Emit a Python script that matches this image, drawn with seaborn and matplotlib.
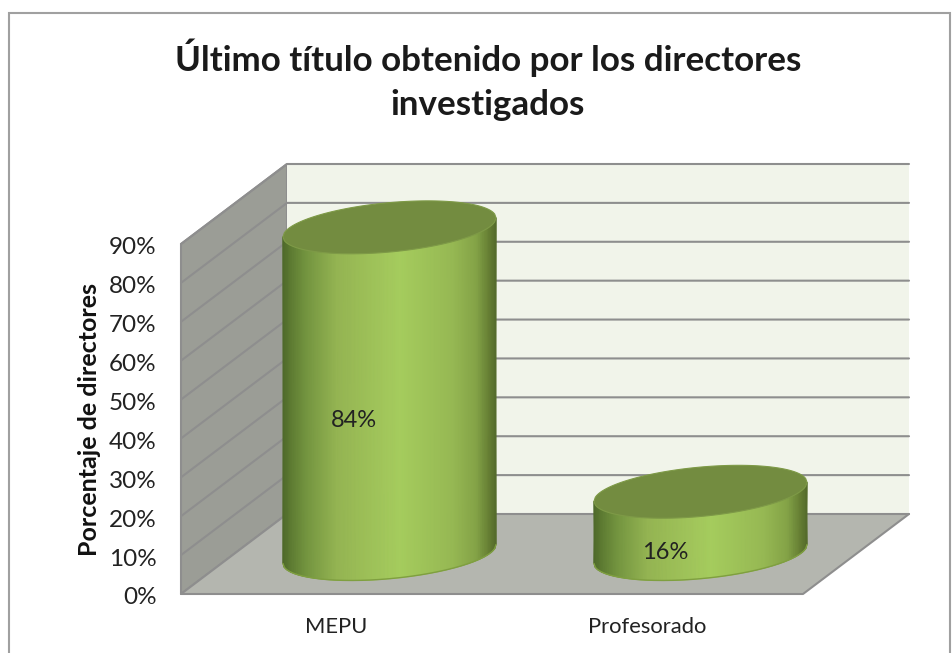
import numpy as np
import seaborn as sns
import matplotlib
matplotlib.use("Agg")
import matplotlib.pyplot as plt
from matplotlib.colors import LinearSegmentedColormap
from matplotlib.patches import Polygon, Rectangle
from matplotlib.transforms import ScaledTranslation

categories = ["MEPU", "Profesorado"]
percentages = [84, 16]
bar_labels = ["84%", "16%"]
y_ticks = [0, 10, 20, 30, 40, 50, 60, 70, 80, 90]
y_tick_labels = ["0%", "10%", "20%", "30%", "40%", "50%", "60%", "70%", "80%", "90%"]
title = "Último título obtenido por los directores\ninvestigados"
y_title = "Porcentaje de directores"

W, H = 952, 653
sns.set_theme(style="white")
plt.rcParams["font.family"] = ["Lato", "DejaVu Sans"]

fig = plt.figure(figsize=(W / 100, H / 100), dpi=100, facecolor="white")
# axes = front plane of the 3D box
ax = fig.add_axes([181 / W, 1 - 594 / H, 622 / W, 350 / H])
ax.set_facecolor("none")

px_x = 622 / 2  # pixels per category
px_y = 350 / 90  # pixels per percent
depth_x = 106 / px_x
depth_y = 80 / px_y
x0, x1 = -0.5, 1.5

# walls
ax.fill([x0, x0 + depth_x, x0 + depth_x, x0], [0, depth_y, 90 + depth_y, 90],
        color="#9b9d96", ec="#8e8e8e", lw=1.5, zorder=0, clip_on=False)
ax.fill([x0 + depth_x, x1 + depth_x, x1 + depth_x, x0 + depth_x],
        [depth_y, depth_y, 90 + depth_y, 90 + depth_y],
        color="#f1f4ea", lw=0, zorder=0, clip_on=False)
ax.fill([x0, x1, x1 + depth_x, x0 + depth_x], [0, 0, depth_y, depth_y],
        color="#b4b6af", lw=0, zorder=0.2, clip_on=False)
ax.plot([x0, x1, x1 + depth_x], [0, 0, depth_y], color="#8e8e8e", lw=1.5, zorder=0.3, clip_on=False)

# gridlines on both walls
for t in y_ticks:
    ax.plot([x0, x0 + depth_x, x1 + depth_x], [t, t + depth_y, t + depth_y],
            color="#8e8e8e", lw=1.5, zorder=0.4, clip_on=False)

# numeric x so pcolormesh below can share the axis
positions = np.arange(len(categories))
sns.barplot(x=positions, y=percentages, color="#a3c95c", width=0.685, ax=ax,
            native_scale=True, saturation=1, zorder=2, linewidth=0)

side_cmap = LinearSegmentedColormap.from_list("cyl", [
    (0.0, "#4f6a2b"), (0.04, "#5f7d33"), (0.11, "#749540"), (0.25, "#94b452"),
    (0.45, "#a0c45a"), (0.55, "#a5cc5d"), (0.80, "#96b853"), (0.91, "#84a347"),
    (0.97, "#667f34"), (1.0, "#556c2c")])

u = np.linspace(-1, 1, 161)
half_h = 24.7 / px_y
tilt = 9.5 / px_y
arc = half_h * np.sqrt(1 - u ** 2)
base = depth_y / 2

for bar, value in zip(ax.containers[0], percentages):
    # move the bar to the middle of the box depth
    bar.set_x(bar.get_x() + depth_x / 2)
    bar.set_y(base)
    xs = bar.get_x() + bar.get_width() * (u + 1) / 2
    top = base + value
    # bar stays under the shading, cut to the cylinder outline
    outline = Polygon(np.column_stack([
        np.r_[xs, xs[::-1]],
        np.r_[base + tilt * u - arc, (top + tilt * u)[::-1]]]), transform=ax.transData)
    bar.set_clip_path(outline)
    # side with gradient
    X = np.vstack([xs, xs])
    Y = np.vstack([base + tilt * u - arc, top + tilt * u])
    C = np.vstack([u, u])
    mesh = ax.pcolormesh(X, Y, C, shading="gouraud", cmap=side_cmap, vmin=-1, vmax=1, zorder=3)
    mesh.set_clip_on(False)
    ax.plot(xs, base + tilt * u - arc, color="#7f9f40", lw=1, zorder=3.1, clip_on=False)
    # top cap
    ax.fill(np.r_[xs, xs[::-1]], np.r_[top + tilt * u + arc, (top + tilt * u - arc)[::-1]],
            color="#738c40", ec="#7e9a47", lw=0.8, zorder=4, clip_on=False)

# value labels sit left of the cylinder axis
label_pos = [(0.0 + 0.057, 44.7), (1.0 + 0.056, 10.6)]
for (lx, ly), text in zip(label_pos, bar_labels):
    ax.text(lx, ly, text, ha="center", va="center", fontsize=17, color="#222222", zorder=5)

ax.set_xlim(x0, x1)
ax.set_ylim(0, 90)
ax.set_xticks(positions)
ax.set_xticklabels(categories)
ax.set_yticks(y_ticks)
ax.set_yticklabels(y_tick_labels, fontsize=17.5, color="#222222")
ax.tick_params(axis="y", length=0, pad=17.5)
ax.tick_params(axis="x", length=0, pad=16.5, labelsize=15.8, labelcolor="#222222")
ax.set_ylabel(y_title, fontsize=18, fontweight="bold", color="#111111", labelpad=6)
ax.set_xlabel("")
sns.despine(ax=ax, left=True, bottom=True)

# nudge y tick labels down a touch
nudge = ScaledTranslation(0, -2 / 100, fig.dpi_scale_trans)
for label in ax.get_yticklabels():
    label.set_transform(label.get_transform() + nudge)

fig.text(488 / W, 1 - 80 / H, title, ha="center", va="center", fontsize=25.2,
         fontweight="bold", color="#1a1a1a", linespacing=1.48)

# chart area border, runs off the bottom of the picture
fig.add_artist(Rectangle((9 / W, -0.05), 941 / W, 1.05 - 13 / H, transform=fig.transFigure,
                         fill=False, ec="#a0a0a0", lw=1.5))

fig.savefig("out.png", dpi=100, facecolor="white")
